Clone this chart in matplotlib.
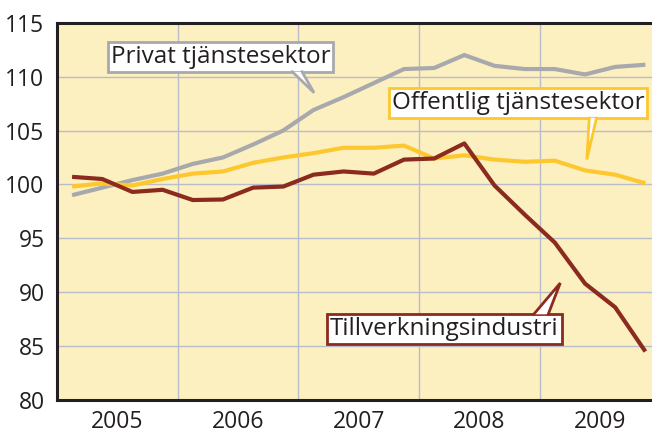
import matplotlib.pyplot as plt
from matplotlib.patches import Polygon

plt.rcParams['font.family'] = ['Open Sans', 'DejaVu Sans']

# quarterly index values, 2005 Q1 - 2009 Q4
quarters = [2005.125 + 0.25 * i for i in range(20)]
privat = [99.0, 99.7, 100.4, 101.0, 101.9, 102.5, 103.7, 105.0, 106.9, 108.1,
          109.4, 110.7, 110.8, 112.0, 111.0, 110.7, 110.7, 110.2, 110.9, 111.1]
offentlig = [99.8, 100.1, 99.9, 100.5, 101.0, 101.2, 102.0, 102.5, 102.9, 103.4,
             103.4, 103.6, 102.4, 102.7, 102.3, 102.1, 102.2, 101.3, 100.9, 100.1]
tillverkning = [100.7, 100.5, 99.3, 99.5, 98.55, 98.6, 99.7, 99.8, 100.9, 101.2,
                101.0, 102.3, 102.4, 103.8, 99.9, 97.2, 94.6, 90.8, 88.6, 84.5]
years = [2005, 2006, 2007, 2008, 2009]
yticks = [80, 85, 90, 95, 100, 105, 110, 115]

c_gray = '#a8a9ad'
c_yellow = '#fdc82f'
c_red = '#8b2a1e'
c_bg = '#fdf0c0'
c_grid = '#b9bccb'
c_text = '#231f20'

fig = plt.figure(figsize=(6.52, 4.37), dpi=100)
ax = fig.add_axes([57 / 652, 1 - 400 / 437, 1 - 57 / 652, (400 - 22.7) / 437])
ax.set_facecolor(c_bg)

ax.plot(quarters, privat, color=c_gray, lw=3, solid_capstyle='butt', zorder=3)
ax.plot(quarters, offentlig, color=c_yellow, lw=3, solid_capstyle='butt', zorder=3)
ax.plot(quarters, tillverkning, color=c_red, lw=3, solid_capstyle='butt', zorder=4)

ax.set_xlim(2005, 2009.93)
ax.set_ylim(80, 115)
ax.set_xticks(years[1:])
ax.set_xticklabels([])
ax.set_xticks([y + 0.5 for y in years], minor=True)
ax.set_xticklabels([str(y) for y in years], minor=True)
ax.set_yticks(yticks)
ax.set_yticklabels([str(v) for v in yticks])
ax.tick_params(which='both', length=0, labelsize=16.5, colors=c_text)
ax.tick_params(axis='x', which='minor', pad=7)
ax.tick_params(axis='y', pad=9)
ax.grid(True, which='major', color=c_grid, lw=1, zorder=1)
ax.set_axisbelow(True)

for s in ['left', 'bottom', 'top']:
    ax.spines[s].set_color(c_text)
    ax.spines[s].set_linewidth(2.2)
ax.spines['right'].set_visible(False)


def callout(text, xy, color, base, tip):
    ax.text(xy[0], xy[1], text, ha='center', va='center', fontsize=17.5,
            color=c_text, zorder=6,
            bbox=dict(boxstyle='square,pad=0.12', fc='white', ec=color, lw=2))
    # white wedge that covers the box edge, then its two sides
    ax.add_patch(Polygon([base[0], base[1], tip], closed=True, fc='white',
                         ec='none', zorder=7))
    ax.plot([base[0][0], tip[0], base[1][0]], [base[0][1], tip[1], base[1][1]],
            color=color, lw=2, zorder=8, solid_joinstyle='miter')


callout('Privat tjänstesektor', (2006.355, 111.8), c_gray,
        [(2006.95, 110.45), (2007.03, 110.45)], (2007.13, 108.5))
callout('Offentlig tjänstesektor', (2008.82, 107.55), c_yellow,
        [(2009.41, 106.15), (2009.47, 106.15)], (2009.39, 102.3))
callout('Tillverkningsindustri', (2008.21, 86.55), c_red,
        [(2008.95, 87.95), (2009.07, 87.95)], (2009.17, 90.85))

fig.savefig('out.png', dpi=100)
